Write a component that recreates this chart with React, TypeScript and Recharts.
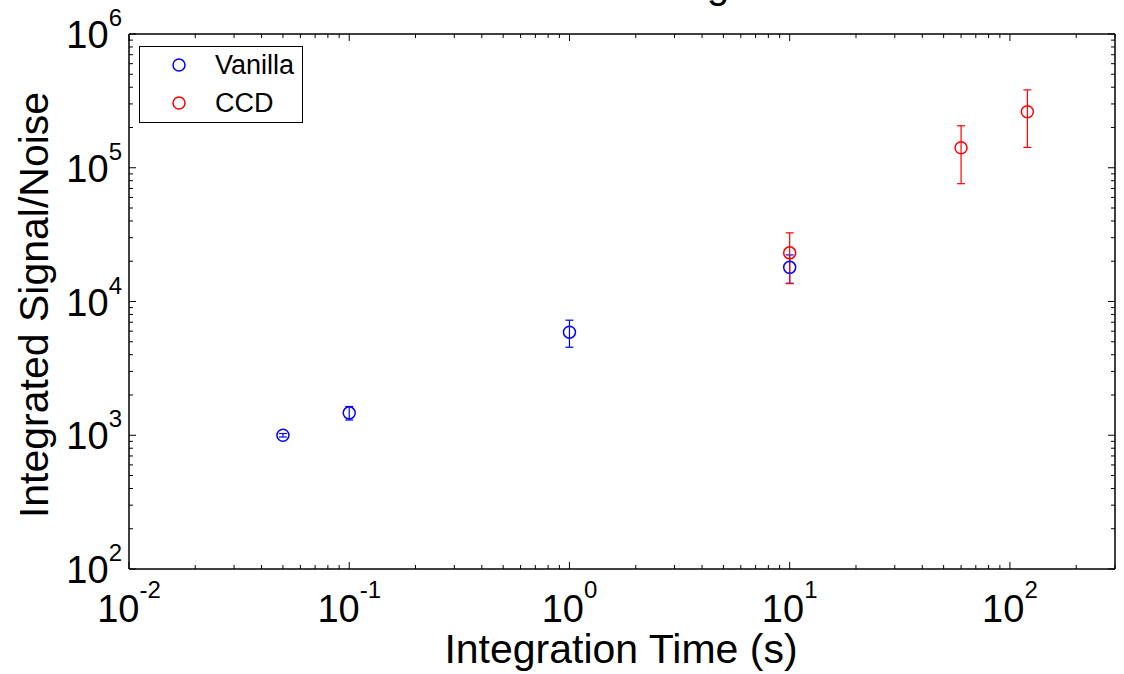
import { ScatterChart, Scatter, XAxis, YAxis, ErrorBar, Legend, Label } from 'recharts';

// integration time (s) vs integrated S/N
const vanillaTime = [0.05, 0.1, 1, 10];
const vanillaSN = [1000, 1470, 5900, 18000];
const vanillaErr = [30, 170, 1350, 4300];

const ccdTime = [10, 60, 120];
const ccdSN = [23100, 141000, 262000];
const ccdErr = [9500, 65000, 120000];

const xMajors = [0.01, 0.1, 1, 10, 100];
const yMajors = [100, 1000, 10000, 100000, 1000000];
const minorSteps = [2, 3, 4, 5, 6, 7, 8, 9];

const xDomain: [number, number] = [0.01, 300];
const yDomain: [number, number] = [100, 1000000];

const xTicks = [...xMajors, ...xMajors.flatMap((m) => minorSteps.map((s) => m * s))].filter(
  (v) => v <= xDomain[1]
);
const yTicks = [...yMajors, ...yMajors.flatMap((m) => minorSteps.map((s) => m * s))].filter(
  (v) => v <= yDomain[1]
);

const vanillaData = vanillaTime.map((t, i) => ({ t, sn: vanillaSN[i], err: vanillaErr[i] }));
const ccdData = ccdTime.map((t, i) => ({ t, sn: ccdSN[i], err: ccdErr[i] }));

const TICK_FONT = '"Liberation Sans Narrow", "Liberation Sans", Arial, sans-serif';
const LABEL_FONT = '"Liberation Sans", Arial, sans-serif';

const expOf = (v: number) => String(Math.round(Math.log10(v)));

function makeXTick(side: 'bottom' | 'top') {
  return (props: any) => {
    const { x, y, payload } = props;
    const v = payload.value;
    const major = xMajors.includes(v);
    const len = major ? 7 : 4;
    const dir = side === 'bottom' ? -1 : 1;
    return (
      <g>
        <line x1={x} x2={x} y1={y} y2={y + dir * len} stroke="#000" strokeWidth={1} />
        {side === 'bottom' && major && (
          <text x={x} y={y + 53} textAnchor="middle" fontFamily={TICK_FONT} fontSize={38} fill="#000">
            10
            <tspan dy={-24} fontSize={24}>
              {expOf(v)}
            </tspan>
          </text>
        )}
      </g>
    );
  };
}

function makeYTick(side: 'left' | 'right') {
  return (props: any) => {
    const { x, y, payload } = props;
    const v = payload.value;
    const major = yMajors.includes(v);
    const len = major ? 7 : 4;
    const dir = side === 'left' ? 1 : -1;
    return (
      <g>
        <line x1={x} x2={x + dir * len} y1={y} y2={y} stroke="#000" strokeWidth={1} />
        {side === 'left' && major && (
          <text x={x - 7} y={y + 14} textAnchor="end" fontFamily={TICK_FONT} fontSize={38} fill="#000">
            10
            <tspan dy={-22} fontSize={24}>
              {expOf(v)}
            </tspan>
          </text>
        )}
      </g>
    );
  };
}

const ringShape = (color: string) => (props: any) =>
  <circle cx={props.cx} cy={props.cy} r={6} fill="none" stroke={color} strokeWidth={1.5} />;

function LegendBox() {
  const items = [
    { name: 'Vanilla', color: '#0000ff' },
    { name: 'CCD', color: '#ff0000' },
  ];
  return (
    <div
      style={{
        width: 164,
        height: 77,
        boxSizing: 'border-box',
        border: '1px solid #000',
        background: '#fff',
        fontFamily: LABEL_FONT,
        fontSize: 27,
        color: '#000',
      }}
    >
      {items.map((it, i) => (
        <div key={it.name} style={{ position: 'absolute', left: 0, top: 19 + i * 38 - 15, height: 30, display: 'flex', alignItems: 'center' }}>
          <svg width={76} height={30} style={{ display: 'block' }}>
            <circle cx={40} cy={15} r={6} fill="none" stroke={it.color} strokeWidth={1.5} />
          </svg>
          <span style={{ lineHeight: '30px' }}>{it.name}</span>
        </div>
      ))}
    </div>
  );
}

export default function App() {
  return (
    <div style={{ position: 'absolute', left: 0, top: 0, background: '#fff' }}>
      <ScatterChart width={1124} height={674} margin={{ top: 33, right: 8, bottom: 0, left: 0 }}>
        <XAxis
          xAxisId="b"
          dataKey="t"
          type="number"
          scale="log"
          domain={xDomain}
          ticks={xTicks}
          interval={0}
          allowDataOverflow
          height={105}
          tickSize={0}
          tickMargin={0}
          tickLine={false}
          axisLine={{ stroke: '#000', strokeWidth: 1.5 }}
          tick={makeXTick('bottom')}
        >
          <Label
            content={() => (
              <text x={621} y={663} textAnchor="middle" fontFamily={LABEL_FONT} fontSize={41} fill="#000">
                Integration Time (s)
              </text>
            )}
          />
        </XAxis>
        <XAxis
          xAxisId="t"
          orientation="top"
          dataKey="t"
          type="number"
          scale="log"
          domain={xDomain}
          ticks={xTicks}
          interval={0}
          allowDataOverflow
          height={1}
          tickSize={0}
          tickMargin={0}
          tickLine={false}
          axisLine={{ stroke: '#000', strokeWidth: 1.5 }}
          tick={makeXTick('top')}
        >
          <Label
            content={() => (
              <text x={718} y={-2} textAnchor="middle" fontFamily={LABEL_FONT} fontSize={40} fill="#000">
                g
              </text>
            )}
          />
        </XAxis>
        <YAxis
          yAxisId="l"
          dataKey="sn"
          type="number"
          scale="log"
          domain={yDomain}
          ticks={yTicks}
          interval={0}
          allowDataOverflow
          width={129}
          tickSize={0}
          tickMargin={0}
          tickLine={false}
          axisLine={{ stroke: '#000', strokeWidth: 1.5 }}
          tick={makeYTick('left')}
        >
          <Label
            content={() => (
              <text
                transform="rotate(-90)"
                x={-305}
                y={48}
                textAnchor="middle"
                fontFamily={LABEL_FONT}
                fontSize={41}
                fill="#000"
              >
                Integrated Signal/Noise
              </text>
            )}
          />
        </YAxis>
        <YAxis
          yAxisId="r"
          orientation="right"
          dataKey="sn"
          type="number"
          scale="log"
          domain={yDomain}
          ticks={yTicks}
          interval={0}
          allowDataOverflow
          width={1}
          tickSize={0}
          tickMargin={0}
          tickLine={false}
          axisLine={{ stroke: '#000', strokeWidth: 1.5 }}
          tick={makeYTick('right')}
        />
        <Legend
          layout="horizontal"
          verticalAlign="middle"
          wrapperStyle={{ position: 'absolute', left: 139, top: 46, width: 164, height: 77 }}
          content={() => <LegendBox />}
        />
        <Scatter
          name="Vanilla"
          data={vanillaData}
          xAxisId="b"
          yAxisId="l"
          shape={ringShape('#0000ff')}
          isAnimationActive={false}
        >
          <ErrorBar dataKey="err" direction="y" width={4} stroke="#0000ff" strokeWidth={1.2} isAnimationActive={false} />
        </Scatter>
        <Scatter
          name="CCD"
          data={ccdData}
          xAxisId="b"
          yAxisId="l"
          shape={ringShape('#ff0000')}
          isAnimationActive={false}
        >
          <ErrorBar dataKey="err" direction="y" width={4} stroke="#ff0000" strokeWidth={1.2} isAnimationActive={false} />
        </Scatter>
      </ScatterChart>
    </div>
  );
}
